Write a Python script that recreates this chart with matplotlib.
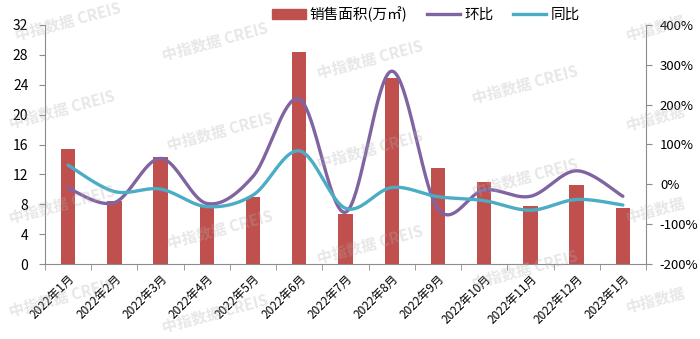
import numpy as np
import matplotlib
matplotlib.use("Agg")
import matplotlib.pyplot as plt
from matplotlib.lines import Line2D
from matplotlib.patches import Patch
from matplotlib.ticker import FixedLocator, FuncFormatter

plt.rcParams['font.family'] = ['Noto Sans CJK SC', 'DejaVu Sans']

months = ['2022年1月', '2022年2月', '2022年3月', '2022年4月', '2022年5月', '2022年6月',
          '2022年7月', '2022年8月', '2022年9月', '2022年10月', '2022年11月', '2022年12月',
          '2023年1月']
area = [15.4, 8.5, 14.3, 7.7, 9.0, 28.4, 6.7, 24.9, 12.8, 11.0, 7.8, 10.6, 7.45]
mom = [-10, -46, 65, -48, 20, 214, -70, 284, -62, -14, -30, 34, -30]   # 环比 %
yoy = [48, -18, -12, -56, -27, 84, -60, -8, -31, -41, -65, -38, -52]    # 同比 %

BAR = '#C0504D'
PURPLE = '#8064A2'
TEAL = '#4BACC6'
AXIS = '#8c8c8c'


def smooth(x, y, n=40):
    # Bezier smoothing through every point, control points from neighbours
    x = np.asarray(x, float)
    y = np.asarray(y, float)
    px = np.concatenate([[x[0]], x, [x[-1]]])
    py = np.concatenate([[y[0]], y, [y[-1]]])
    xs, ys = [], []
    t = np.linspace(0, 1, n)
    for i in range(len(x) - 1):
        p0 = np.array([px[i + 1], py[i + 1]])
        p3 = np.array([px[i + 2], py[i + 2]])
        c1 = p0 + (p3 - np.array([px[i], py[i]])) / 6
        c2 = p3 - (np.array([px[i + 3], py[i + 3]]) - p0) / 6
        b = ((1 - t) ** 3)[:, None] * p0 + (3 * (1 - t) ** 2 * t)[:, None] * c1 \
            + (3 * (1 - t) * t ** 2)[:, None] * c2 + (t ** 3)[:, None] * p3
        xs.append(b[:, 0])
        ys.append(b[:, 1])
    return np.concatenate(xs), np.concatenate(ys)


fig = plt.figure(figsize=(7.0, 3.39), dpi=100)
ax = fig.add_axes([45 / 700, 1 - 264 / 339, 601 / 700, 239 / 339])
ax2 = ax.twinx()

x = np.arange(len(months))
ax.bar(x, area, width=0.31, color=BAR, zorder=2)
ax.set_xlim(-0.5, len(months) - 0.5)
ax.set_ylim(0, 32)
ax.set_yticks(range(0, 33, 4))

sx, sy = smooth(x, mom)
ax2.plot(sx, sy, color=PURPLE, lw=2.4, solid_capstyle='round', zorder=3)
sx, sy = smooth(x, yoy)
ax2.plot(sx, sy, color=TEAL, lw=2.4, solid_capstyle='round', zorder=4)
ax2.set_ylim(-200, 400)
ax2.set_yticks(range(-200, 401, 100))
ax2.yaxis.set_major_formatter(FuncFormatter(lambda v, p: f'{int(v)}%'))

ax.set_xticks(x)
ax.set_xticklabels(months, rotation=45, ha='right', rotation_mode='anchor', fontsize=8.5)
ax.tick_params(axis='x', length=0, pad=6)
ax.xaxis.set_minor_locator(FixedLocator(np.arange(-0.5, len(months), 1)))
ax.tick_params(axis='x', which='minor', length=4, color=AXIS)
ax.tick_params(axis='y', length=4, color=AXIS, labelsize=10, pad=8)
ax2.tick_params(axis='y', length=4, color=AXIS, labelsize=9.5, pad=6)

for a in (ax, ax2):
    a.spines['top'].set_visible(False)
    for s in ('left', 'right', 'bottom'):
        a.spines[s].set_color(AXIS)
ax.spines['right'].set_visible(False)
ax2.spines['left'].set_visible(False)
ax2.spines['bottom'].set_visible(False)

handles = [Patch(color=BAR), Line2D([], [], color=PURPLE, lw=2.4), Line2D([], [], color=TEAL, lw=2.4)]
fig.legend(handles, ['销售面积(万㎡)', '环比', '同比'], loc='center', ncol=3,
           bbox_to_anchor=(426 / 700, 1 - 14 / 339), frameon=False, fontsize=10.5,
           handlelength=2.3, handletextpad=0.3, columnspacing=1.3)

# faint watermark tiles
marks = [(68, 22, '中指数据 CREIS'), (215, 42, '中指数据 CREIS'), (370, 60, '中指数据 CREIS'),
         (525, 85, '中指数据 CREIS'), (655, 28, '中指数据'), (62, 110, '中指数据 CREIS'),
         (220, 132, '中指数据 CREIS'), (655, 118, '中指数据'), (370, 150, '中指数据 CREIS'),
         (525, 178, '中指数据 CREIS'), (62, 205, '中指数据 CREIS'), (220, 230, '中指数据 CREIS'),
         (655, 210, '中指数据'), (370, 245, '中指数据 CREIS'), (525, 270, '中指数据 CREIS'),
         (62, 298, '中指数据 CREIS'), (215, 314, '中指数据 CREIS'), (655, 300, '中指数据')]
for mx, my, txt in marks:
    fig.text(mx / 700, 1 - my / 339, txt, rotation=15, ha='center', va='center',
             fontsize=11, fontweight='bold', color='#b0b0b0', alpha=0.3, zorder=10)

fig.savefig('out.png', dpi=100)
